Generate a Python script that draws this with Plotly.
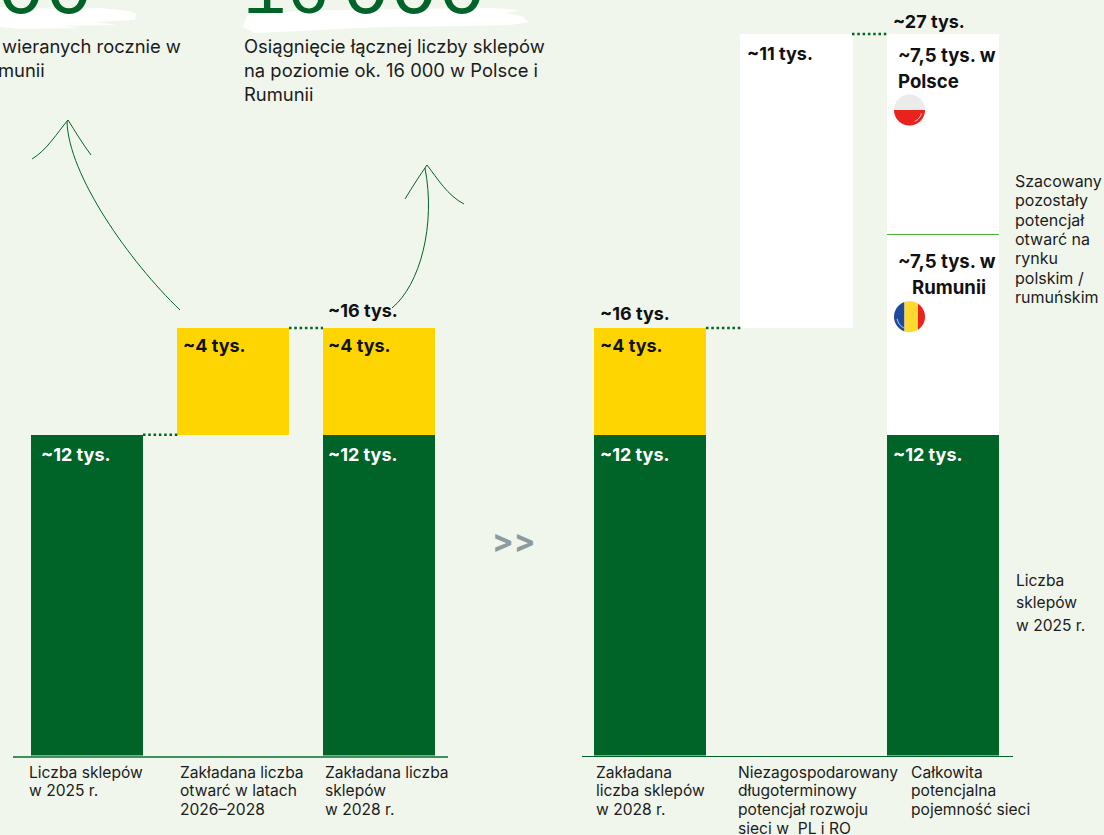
import math
import plotly.graph_objects as go

W, H = 1104, 835
BG = "#F0F6EC"
GREEN = "#006428"
YELLOW = "#FFD500"
INK = "#1C1C1C"
BODY_FONT = "Inter"

# Store counts in thousands
CATS_LEFT = [
    ["Liczba sklepów", "w 2025 r."],
    ["Zakładana liczba", "otwarć w latach", "2026–2028"],
    ["Zakładana liczba", "sklepów", "w 2028 r."],
]
CATS_RIGHT = [
    ["Zakładana", "liczba sklepów", "w 2028 r."],
    ["Niezagospodarowany", "długoterminowy", "potencjał rozwoju", "sieci w  PL i RO"],
    ["Całkowita", "potencjalna", "pojemność sieci"],
]
EXISTING_LEFT = [12, None, 12]
OPENINGS_LEFT = [None, 4, 4]
EXISTING_RIGHT = [12, None, 12]
OPENINGS_RIGHT = [4, None, None]
UNTAPPED_RIGHT = [None, 11, None]
POLAND_RIGHT = [None, None, 7.5]
ROMANIA_RIGHT = [None, None, 7.5]

AXIS_TOP = 755.5 / 26.72  # top of the value axis, in thousands of stores


def px(x):
    return x / W


def py(y):
    return 1 - y / H


def names(cats):
    return [" ".join(c) for c in cats]


def path(points, close=True):
    d = "M" + " L".join(f"{px(x):.5f},{py(y):.5f}" for x, y in points)
    return d + (" Z" if close else "")


def curve(p0, c1, c2, p1):
    return (
        f"M{px(p0[0]):.5f},{py(p0[1]):.5f} "
        f"C{px(c1[0]):.5f},{py(c1[1]):.5f} {px(c2[0]):.5f},{py(c2[1]):.5f} "
        f"{px(p1[0]):.5f},{py(p1[1]):.5f}"
    )


def bar(x, y, base, color, xa, ya):
    return go.Bar(
        x=names(x), y=y, base=base, width=0.767, marker=dict(color=color, line=dict(width=0)),
        xaxis=xa, yaxis=ya, showlegend=False, hoverinfo="skip",
    )


def stacked(below, values):
    return [None if v is None else b for b, v in zip(below, values)]


fig = go.Figure()
fig.add_trace(bar(CATS_LEFT, EXISTING_LEFT, None, GREEN, "x", "y"))
fig.add_trace(bar(CATS_LEFT, OPENINGS_LEFT, stacked([12, 12, 12], OPENINGS_LEFT), YELLOW, "x", "y"))
fig.add_trace(bar(CATS_RIGHT, EXISTING_RIGHT, None, GREEN, "x2", "y2"))
fig.add_trace(bar(CATS_RIGHT, OPENINGS_RIGHT, stacked([12, 12, 12], OPENINGS_RIGHT), YELLOW, "x2", "y2"))
fig.add_trace(bar(CATS_RIGHT, UNTAPPED_RIGHT, stacked([16, 16, 16], UNTAPPED_RIGHT), "#FFFFFF", "x2", "y2"))
fig.add_trace(bar(CATS_RIGHT, ROMANIA_RIGHT, stacked([12, 12, 12], ROMANIA_RIGHT), "#FFFFFF", "x2", "y2"))
fig.add_trace(bar(CATS_RIGHT, POLAND_RIGHT, stacked([19.5, 19.5, 19.5], POLAND_RIGHT), "#FFFFFF", "x2", "y2"))

shapes = []
annotations = []


def text(x, y, s, size=15, color=INK, bold=False, anchor="left", family=BODY_FONT):
    annotations.append(dict(
        x=px(x - 2), y=py(y), xref="paper", yref="paper", text=f"<b>{s}</b>" if bold else s,
        showarrow=False, xanchor=anchor, yanchor="middle", align=anchor,
        font=dict(family=family, size=size, color=color),
    ))


def block(x, y, lines, leading, size=15, color=INK):
    for i, line in enumerate(lines):
        text(x, y + i * leading, line, size=size, color=color)


def dotted(x0, x1, value, yref):
    shapes.append(dict(type="line", xref="paper", yref=yref, x0=px(x0), x1=px(x1), y0=value, y1=value,
                       line=dict(color=GREEN, width=2.5, dash="2.5px,2.8px")))


def disc(cx, cy, r, x0, x1, y0, y1, color):
    # Circle segment between the given bounds, traced as a fine polygon
    pts = []
    for i in range(180):
        a = 2 * math.pi * i / 180
        pts.append((min(max(cx + r * math.cos(a), x0), x1), min(max(cy + r * math.sin(a), y0), y1)))
    shapes.append(dict(type="path", xref="paper", yref="paper", path=path(pts),
                       fillcolor=color, line=dict(width=0), layer="above"))


def glint(cx, cy, r, a0, a1):
    pts = [(cx + r * math.cos(math.radians(a0 + (a1 - a0) * i / 20)),
            cy + r * math.sin(math.radians(a0 + (a1 - a0) * i / 20))) for i in range(21)]
    shapes.append(dict(type="path", xref="paper", yref="paper", path=path(pts, close=False),
                       line=dict(color="#FFFFFF", width=0.8), layer="above"))


# Brush strokes behind the headline figures
shapes.append(dict(type="path", xref="paper", yref="paper", fillcolor="#FFFFFF", line=dict(width=0), layer="below",
                   path=path([(0, 7), (60, 9), (100, 8), (130, 11), (136, 14), (135, 20), (95, 22), (117, 25),
                              (60, 26), (82, 28), (20, 29), (0, 27)])))
shapes.append(dict(type="path", xref="paper", yref="paper", fillcolor="#FFFFFF", line=dict(width=0), layer="below",
                   path=path([(247, 15), (300, 11), (400, 9), (490, 8), (520, 10), (505, 13), (522, 16), (529, 22),
                              (510, 25), (470, 26), (380, 27), (300, 31), (255, 33), (243, 27)])))

# Hand-drawn arrows rising from the bars to the headline text
ARROW = dict(type="path", xref="paper", yref="paper", line=dict(color=GREEN, width=1))
shapes += [
    dict(ARROW, path=curve((180, 310), (130, 262), (68, 175), (67, 121))),
    dict(ARROW, path=curve((32, 159), (47, 150), (57, 133), (68, 120))),
    dict(ARROW, path=curve((68, 120), (75, 131), (82, 143), (91, 155))),
    dict(ARROW, path=curve((392, 308), (420, 285), (436, 225), (425, 168))),
    dict(ARROW, path=curve((405, 199), (413, 186), (420, 175), (427, 165))),
    dict(ARROW, path=curve((427, 165), (437, 178), (448, 196), (464, 204))),
]

dotted(143, 179, 12, "y")
dotted(289, 323, 16, "y")
dotted(706, 742, 16, "y2")
dotted(852, 889, 27, "y2")

# Boundary between the Polish and Romanian potential
shapes.append(dict(type="line", xref="paper", yref="y2", x0=px(887), x1=px(999), y0=19.5, y1=19.5,
                   line=dict(color="#45B035", width=1), layer="above"))

# Flags
R = 15.5
disc(909.5, 110, R, 880, 940, 90, 110, "#EBEBEB")
disc(909.5, 110, R, 880, 940, 110, 130, "#E8221C")
glint(909.5, 110, R - 3, 15, 65)
disc(909.5, 316.7, R, 880, 904.5, 295, 340, "#1F4A9C")
disc(909.5, 316.7, R, 904.5, 918, 295, 340, "#FFD92E")
disc(909.5, 316.7, R, 918, 940, 295, 340, "#E8251C")
glint(909.5, 316.7, R - 3, 115, 170)

# Headline figures, running off the top edge of the page
for x, s, anchor in [
    (95, "00", "right"),
    (241, '<span style="font-size:72px">16</span><span style="font-size:21px"> </span>000', "left"),
]:
    annotations.append(dict(x=px(x), y=py(39), xref="paper", yref="paper", text=s, showarrow=False,
                            xanchor=anchor, yanchor="bottom", font=dict(family="Liberation Mono", size=80, color=GREEN)))

text(185, 46, "wieranych rocznie w", size=18.4, anchor="right")
text(49, 70, "munii", size=18.4, anchor="right")
block(244, 46, ["Osiągnięcie łącznej liczby sklepów", "na poziomie ok. 16 000 w Polsce i", "Rumunii"], 24, size=18.4)

# Value labels
for x, y, s, c in [
    (41, 454, "~12 tys.", "#FFFFFF"), (328, 454, "~12 tys.", "#FFFFFF"), (600, 454, "~12 tys.", "#FFFFFF"),
    (893, 454, "~12 tys.", "#FFFFFF"), (183, 345, "~4 tys.", "#111111"), (328, 345, "~4 tys.", "#111111"),
    (600, 345, "~4 tys.", "#111111"), (328, 310, "~16 tys.", "#111111"), (600, 313, "~16 tys.", "#111111"),
    (747, 53, "~11 tys.", "#111111"), (893, 21, "~27 tys.", "#111111"),
]:
    text(x, y, s, size=18, color=c, bold=True)
for x, y, s in [(898, 55, "~7,5 tys. w"), (898, 81, "Polsce"), (898, 261, "~7,5 tys. w")]:
    text(x, y, s, size=18.6, color="#111111", bold=True)
text(951, 287, "Rumunii", size=18.6, color="#111111", bold=True, anchor="center")

text(492, 540, "&gt;&gt;", size=32, color="#8D9AA0", bold=True)

# Category captions under both charts
for x, lines in zip((29, 180, 325), CATS_LEFT):
    block(x, 772, lines, 18.7, size=15.6)
for x, lines in zip((596, 738, 911), CATS_RIGHT):
    block(x, 772, lines, 18.7, size=15.6)

block(1015, 181, ["Szacowany", "pozostały", "potencjał", "otwarć na", "rynku", "polskim /", "rumuńskim"], 19.3, size=16)
block(1016, 580, ["Liczba", "sklepów", "w 2025 r."], 22.5, size=15.6)

HIDDEN_Y = dict(range=[0, AXIS_TOP], domain=[py(755.5), 1], visible=False, fixedrange=True)


def cat_axis(domain, rng, color, width):
    return dict(domain=domain, range=rng, type="category", showticklabels=False, ticks="", showgrid=False,
                showline=True, linecolor=color, linewidth=width, zeroline=False, fixedrange=True)


fig.update_layout(
    width=W, height=H, margin=dict(l=0, r=0, t=0, b=0), autosize=False,
    paper_bgcolor=BG, plot_bgcolor="rgba(0,0,0,0)", barmode="overlay", bargap=0,
    showlegend=False, shapes=shapes, annotations=annotations,
    xaxis=cat_axis([px(13), px(448)], [-0.507, 2.473], "#3F8F5F", 1.5),
    xaxis2=cat_axis([px(582), px(1013)], [-0.464, 2.478], GREEN, 1),
    yaxis=dict(HIDDEN_Y, anchor="x"),
    yaxis2=dict(HIDDEN_Y, anchor="x2"),
)
fig.write_html("out.html", config=dict(displayModeBar=False))
